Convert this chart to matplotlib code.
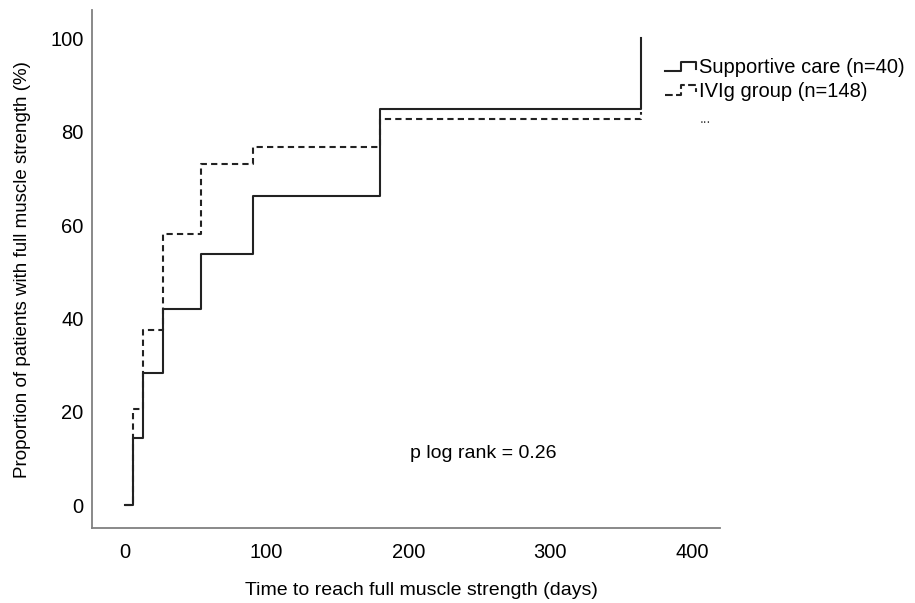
import matplotlib
matplotlib.use("Agg")
import matplotlib.pyplot as plt
from matplotlib.legend_handler import HandlerBase
from matplotlib.lines import Line2D

plt.rcParams['font.family'] = ['Liberation Sans', 'DejaVu Sans']

# andmed (loetud pildilt)
paevad = [0, 6, 13, 27, 54, 90, 180, 364]
toetav = [0, 14.4, 28.2, 42.1, 53.7, 66.2, 84.8, 100]
ivig = [0, 20.6, 37.5, 58.0, 73.0, 76.7, 82.8, 84.3]
sildid = ["Supportive care (n=40)", "IVIg group (n=148)"]
x_tickid = [0, 100, 200, 300, 400]
y_tickid = [0, 20, 40, 60, 80, 100]


# legendi trepikujuline sümbol
class TrepiHandler(HandlerBase):
    def create_artists(self, legend, orig_handle, xdescent, ydescent,
                       width, height, fontsize, trans):
        x0 = -xdescent
        y0 = -ydescent
        xs = [x0, x0 + 0.5 * width, x0 + 0.5 * width, x0 + width, x0 + width]
        ys = [y0 + 0.15 * height, y0 + 0.15 * height, y0 + 0.85 * height,
              y0 + 0.85 * height, y0 + 0.35 * height]
        joon = Line2D(xs, ys, color=orig_handle.get_color(),
                      linestyle=orig_handle.get_linestyle(),
                      linewidth=orig_handle.get_linewidth(), transform=trans)
        return [joon]


fig = plt.figure(figsize=(9.15, 6.03), dpi=100)
ax = fig.add_axes([0.1005, 0.1244, 0.6865, 0.8586])

l1, = ax.step(paevad, toetav, where='post', color='#222222', linewidth=1.5)
l2, = ax.step(paevad, ivig, where='post', color='#222222', linewidth=1.5,
              linestyle=(0, (3, 2)))

ax.set_xlim(-23.3, 420)
ax.set_ylim(-4.9, 106)
ax.set_xticks(x_tickid)
ax.set_yticks(y_tickid)
ax.tick_params(length=0, labelsize=14.5, pad=6)
ax.tick_params(axis='x', pad=11)

for s in ['top', 'right']:
    ax.spines[s].set_visible(False)
for s in ['left', 'bottom']:
    ax.spines[s].set_color('#808080')
    ax.spines[s].set_linewidth(1.3)

ax.set_xlabel("Time to reach full muscle strength (days)", fontsize=14,
              labelpad=14, x=0.524)
ax.set_ylabel("Proportion of patients with full muscle strength (%)",
              fontsize=13.5, labelpad=14)

ax.text(253, 11, "p log rank = 0.26", fontsize=14, ha='center', va='center')

ax.legend([l1, l2], sildid, handler_map={Line2D: TrepiHandler()},
          loc='upper left', bbox_to_anchor=(0.727, 0.903),
          bbox_transform=fig.transFigure, frameon=False, fontsize=14.5,
          handlelength=1.55, handletextpad=0.12, borderpad=0,
          labelspacing=0.22, borderaxespad=0)
fig.text(705 / 915, 1 - 119 / 603, "...", fontsize=10, color='#444444',
         ha='center', va='center')

fig.savefig("out.png", dpi=100)
